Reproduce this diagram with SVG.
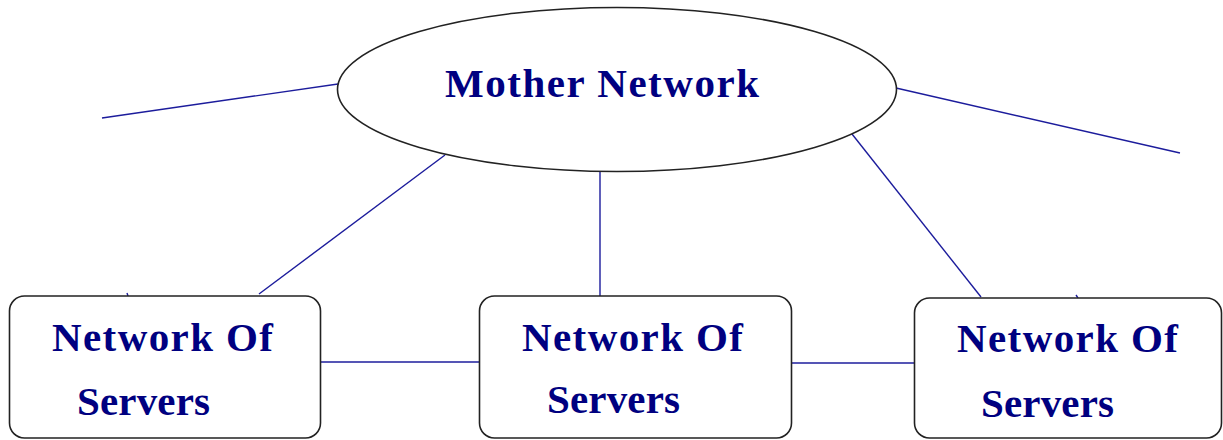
<svg xmlns="http://www.w3.org/2000/svg" width="1223" height="440" viewBox="0 0 1223 440">
  <style>
    .shape { fill: #ffffff; stroke: #222222; stroke-width: 1.6; }
    .link { stroke: #1c1c9c; stroke-width: 1.4; fill: none; }
    .label { font-family: "Liberation Serif", "Times New Roman", serif; font-weight: bold; font-size: 41px; fill: #000080; }
  </style>
  <rect width="1223" height="440" fill="#ffffff"/>

  <g id="connectors">
    <line class="link" x1="102" y1="118" x2="338" y2="84"/>
    <line class="link" x1="896" y1="88" x2="1180" y2="153"/>
    <line class="link" x1="445" y1="155" x2="259" y2="294"/>
    <line class="link" x1="600" y1="172" x2="600" y2="296"/>
    <line class="link" x1="852" y1="134" x2="981" y2="297"/>
    <line class="link" x1="321" y1="362" x2="479" y2="362"/>
    <line class="link" x1="792" y1="363" x2="914" y2="363"/>
    <line class="link" x1="127" y1="293" x2="128" y2="296"/>
    <line class="link" x1="1076" y1="295" x2="1078" y2="298"/>
  </g>

  <g id="mother-network">
    <ellipse class="shape" cx="617" cy="89.5" rx="279.5" ry="82"/>
    <text class="label" x="445" y="97" textLength="314" lengthAdjust="spacing">Mother Network</text>
  </g>

  <g id="servers-left">
    <rect class="shape" x="9.5" y="296" width="311" height="142" rx="15"/>
    <text class="label" x="52" y="351" textLength="221" lengthAdjust="spacing">Network Of</text>
    <text class="label" x="77" y="415" textLength="133" lengthAdjust="spacing">Servers</text>
  </g>

  <g id="servers-middle">
    <rect class="shape" x="479.5" y="296" width="312" height="142" rx="15"/>
    <text class="label" x="522" y="351" textLength="221" lengthAdjust="spacing">Network Of</text>
    <text class="label" x="547" y="413" textLength="133" lengthAdjust="spacing">Servers</text>
  </g>

  <g id="servers-right">
    <rect class="shape" x="914.5" y="298" width="307" height="140" rx="15"/>
    <text class="label" x="957" y="352" textLength="221" lengthAdjust="spacing">Network Of</text>
    <text class="label" x="981" y="417" textLength="133" lengthAdjust="spacing">Servers</text>
  </g>
</svg>
